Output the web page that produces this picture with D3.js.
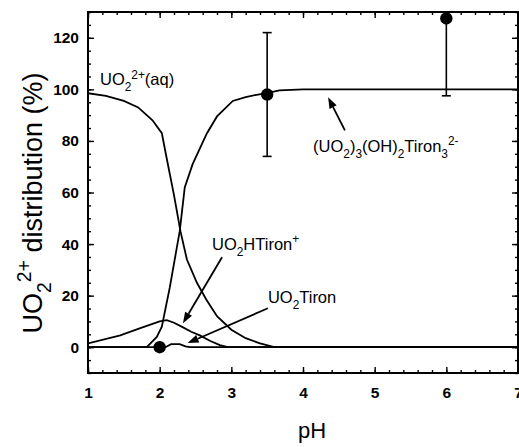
<!DOCTYPE html>
<html>
<head>
<meta charset="utf-8">
<script src="https://cdn.jsdelivr.net/npm/d3@7"></script>
<style>
  body { margin: 0; background: #fff; }
  svg text { font-family: "Liberation Sans", Arial, sans-serif; fill: #000; }
</style>
</head>
<body>
<svg id="chart" width="519" height="447"></svg>
<script>
// species curves (pH, %)
var aqPH   = [1, 1.25, 1.5, 1.7, 1.9, 2.03, 2.1, 2.2, 2.29, 2.38, 2.52, 2.65, 2.8, 3.0, 3.2, 3.4, 3.6, 4, 7]
var aqVal  = [98.5, 97.5, 95.5, 93, 88, 83, 73, 59, 45, 34, 25, 18.5, 12, 6.8, 3.5, 1.5, 0, 0, 0]

var triPH  = [1, 1.82, 1.96, 2.03, 2.14, 2.28, 2.35, 2.46, 2.66, 2.8, 3.02, 3.2, 3.37, 3.5, 3.67, 4, 7]
var triVal = [0, 0, 4, 8, 23, 45, 62, 71, 83, 89.5, 95.5, 97, 98, 98.5, 99.6, 100, 100]

var htPH   = [1, 1.45, 1.72, 2.0, 2.1, 2.2, 2.32, 2.44, 2.56, 2.7, 2.84, 2.95, 7]
var htVal  = [1.5, 4.6, 7.3, 10, 10.5, 9.5, 7.8, 6, 4.6, 2.5, 0.8, 0, 0]

var tiPH   = [1, 2.08, 2.16, 2.28, 2.36, 2.42, 7]
var tiVal  = [0, 0, 1.2, 1.2, 0.3, 0, 0]

// measured points with error bars
var ptPH   = [2, 3.5, 6]
var ptVal  = [0, 98, 127.5]
var ptErr  = [0, 24, 30]

var xTicks = [1, 2, 3, 4, 5, 6, 7]
var yTicks = [0, 20, 40, 60, 80, 100, 120]

var svg = d3.select("#chart")
// note: "top" is taken by window.top, so plot edges get their own names
var pLeft = 88, pRight = 518, pTop = 12, pBottom = 373

var x = d3.scaleLinear().domain([1, 7]).range([pLeft, pRight])
var y = d3.scaleLinear().domain([-10, 130]).range([pBottom, pTop])

svg.append("clipPath").attr("id", "clip")
   .append("rect")
   .attr("x", pLeft).attr("y", pTop)
   .attr("width", pRight - pLeft).attr("height", pBottom - pTop)

var plot = svg.append("g").attr("clip-path", "url(#clip)")

var line = d3.line()
     .x(function (d) { return x(d[0]) })
     .y(function (d) { return y(d[1]) })

var curves = [[aqPH, aqVal], [triPH, triVal], [htPH, htVal], [tiPH, tiVal]]
curves.forEach(function (c) {
  plot.append("path")
      .datum(d3.zip(c[0], c[1]))
      .attr("d", line)
      .attr("fill", "none")
      .attr("stroke", "#000")
      .attr("stroke-width", 1.8)
})

// error bars + points
var pts = d3.zip(ptPH, ptVal, ptErr)
pts.forEach(function (p) {
  if (p[2] > 0) {
    plot.append("line")
        .attr("x1", x(p[0])).attr("x2", x(p[0]))
        .attr("y1", y(p[1] - p[2])).attr("y2", y(p[1] + p[2]))
        .attr("stroke", "#000").attr("stroke-width", 1.6)
    ;[p[1] - p[2], p[1] + p[2]].forEach(function (v) {
      plot.append("line")
          .attr("x1", x(p[0]) - 4.5).attr("x2", x(p[0]) + 4.5)
          .attr("y1", y(v)).attr("y2", y(v))
          .attr("stroke", "#000").attr("stroke-width", 1.6)
    })
  }
  svg.append("circle")
     .attr("cx", x(p[0])).attr("cy", y(p[1]))
     .attr("r", 6.2).attr("fill", "#000")
})

// axes
function minorTicks(axis, vals) {
  return axis.tickValues(vals).tickSize(-3).tickFormat("")
}
var xMinor = d3.range(1, 7.01, 0.2)
var yMinor = d3.range(-10, 130.01, 5)

var gx = svg.append("g").attr("transform", "translate(0," + pBottom + ")")
gx.call(minorTicks(d3.axisBottom(x), xMinor))
gx.append("g").call(d3.axisBottom(x).tickValues(xTicks).tickSize(-6).tickPadding(14).tickFormat(d3.format("d")))

var gxt = svg.append("g").attr("transform", "translate(0," + pTop + ")")
gxt.call(minorTicks(d3.axisTop(x), xMinor))
gxt.append("g").call(d3.axisTop(x).tickValues(xTicks).tickSize(-6).tickFormat(""))

var gy = svg.append("g").attr("transform", "translate(" + pLeft + ",0)")
gy.call(minorTicks(d3.axisLeft(y), yMinor))
gy.append("g").call(d3.axisLeft(y).tickValues(yTicks).tickSize(-6).tickPadding(9).tickFormat(d3.format("d")))

var gyr = svg.append("g").attr("transform", "translate(" + pRight + ",0)")
gyr.call(minorTicks(d3.axisRight(y), yMinor))
gyr.append("g").call(d3.axisRight(y).tickValues(yTicks).tickSize(-6).tickFormat(""))

svg.selectAll(".domain").remove()
svg.selectAll(".tick line").attr("stroke", "#000").attr("stroke-width", 1.4)
svg.selectAll(".tick text")
   .attr("font-size", 15.5).attr("font-weight", "bold")
   .attr("font-family", "Liberation Sans, Arial, sans-serif")

svg.append("rect")
   .attr("x", pLeft).attr("y", pTop)
   .attr("width", pRight - pLeft).attr("height", pBottom - pTop)
   .attr("fill", "none").attr("stroke", "#000").attr("stroke-width", 2)

// rich text helper: parts are [text, "n"|"sub"|"sup"]
function richText(g, parts, size) {
  var t = g.append("text").attr("font-size", size)
  var shift = 0
  parts.forEach(function (p) {
    var target = p[1] == "sub" ? size * 0.32 : p[1] == "sup" ? -size * 0.42 : 0
    t.append("tspan")
     .attr("dy", target - shift)
     .attr("font-size", p[1] == "n" ? size : size * 0.72)
     .text(p[0])
    shift = target
  })
  return t
}

// labels
var labels = [
  { px: 1.167, v: 101.5, parts: [["UO", "n"], ["2", "sub"], ["2+", "sup"], ["(aq)", "n"]] },
  { px: 2.73, v: 37.6, parts: [["UO", "n"], ["2", "sub"], ["HTiron", "n"], ["+", "sup"]] },
  { px: 3.51, v: 17, parts: [["UO", "n"], ["2", "sub"], ["Tiron", "n"]] },
  { px: 4.14, v: 75.6, parts: [["(UO", "n"], ["2", "sub"], [")", "n"], ["3", "sub"], ["(OH)", "n"], ["2", "sub"], ["Tiron", "n"], ["3", "sub"], ["2-", "sup"]] }
]
labels.forEach(function (l) {
  var g = svg.append("g").attr("transform", "translate(" + x(l.px) + "," + y(l.v) + ")")
  richText(g, l.parts, 16.5)
})

// arrows
var arrowFrom = [[2.87, 34.9], [3.51, 15.1], [4.585, 84.1]]
var arrowTo   = [[2.325, 9.3], [2.39, 1.6], [4.35, 96.9]]
d3.zip(arrowFrom, arrowTo).forEach(function (a) {
  var x1 = x(a[0][0]), y1 = y(a[0][1]), x2 = x(a[1][0]), y2 = y(a[1][1])
  var ang = Math.atan2(y2 - y1, x2 - x1)
  var len = 11, w = 4
  var bx = x2 - len * Math.cos(ang), by = y2 - len * Math.sin(ang)
  svg.append("line")
     .attr("x1", x1).attr("y1", y1).attr("x2", bx).attr("y2", by)
     .attr("stroke", "#000").attr("stroke-width", 1.8)
  var tri = [[x2, y2],
             [bx + w * Math.sin(ang), by - w * Math.cos(ang)],
             [bx - w * Math.sin(ang), by + w * Math.cos(ang)]]
  svg.append("polygon").attr("points", tri.map(function (p) { return p.join(",") }).join(" "))
     .attr("fill", "#000")
})

// axis titles
svg.append("text")
   .attr("x", 312).attr("y", 438)
   .attr("text-anchor", "middle")
   .attr("font-size", 22)
   .text("pH")

var yt = svg.append("g").attr("transform", "translate(42,203) rotate(-90)")
richText(yt, [["UO", "n"], ["2", "sub"], ["2+", "sup"], [" distribution (%)", "n"]], 27)
   .attr("text-anchor", "middle")
</script>
</body>
</html>
